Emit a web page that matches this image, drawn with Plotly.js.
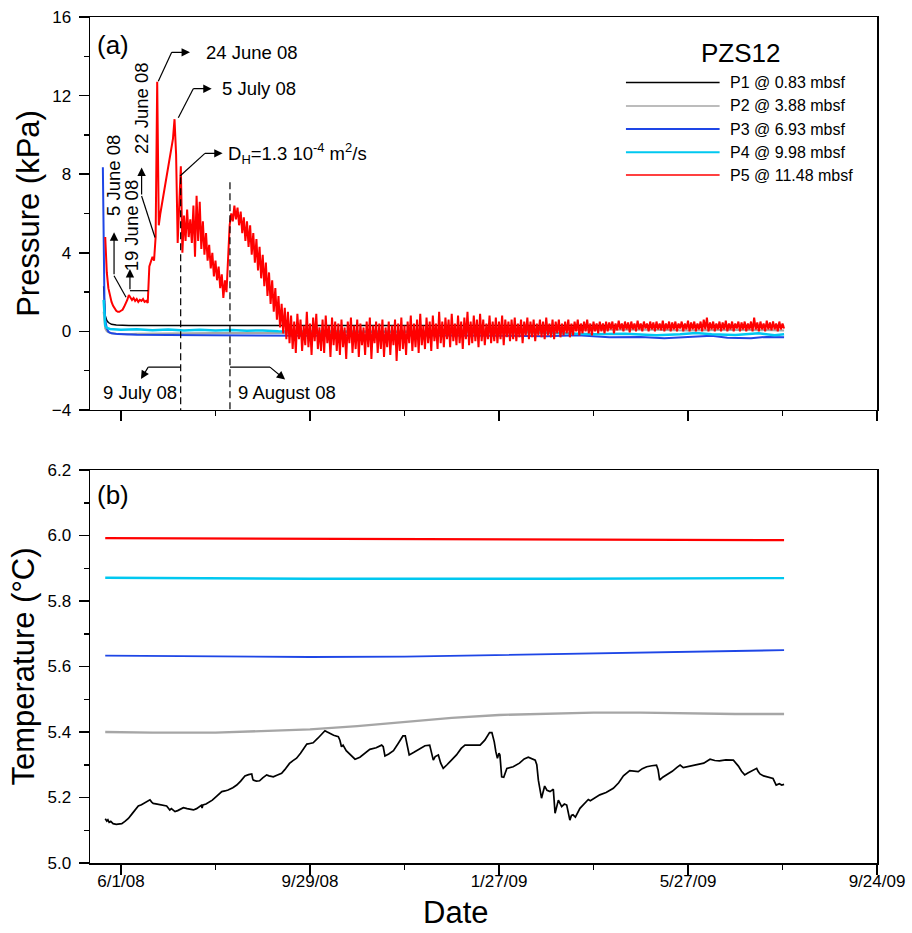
<!DOCTYPE html>
<html>
<head>
<meta charset="utf-8">
<script src="https://cdn.plot.ly/plotly-3.0.1.min.js"></script>
<style>body{margin:0;background:#fff;} #chart{width:912px;height:933px;}</style>
</head>
<body>
<div id="chart"></div>
<script>
// ---------------- DATA (days counted from 2008-06-01) ----------------
const seriesNames = ['P1 @ 0.83 mbsf','P2 @ 3.88 mbsf','P3 @ 6.93 mbsf','P4 @ 9.98 mbsf','P5 @ 11.48 mbsf'];
const seriesColors = ['#000000','#a6a6a6','#1e46e6','#00c8f0','#ff0000'];
const siteName = 'PZS12';
const xTickLabels = ['6/1/08','9/29/08','1/27/09','5/27/09','9/24/09'];
const xTickDates = ['2008-06-01','2008-09-29','2009-01-27','2009-05-27','2009-09-24'];

// Pressure (kPa)
const pressP1Day = [-11,-10.5,-10,-9,-8,-6,-3,5,50,100,150,200,250,300,350,421];
const pressP1    = [2.3,1.2,0.8,0.55,0.45,0.36,0.32,0.3,0.3,0.3,0.3,0.3,0.29,0.28,0.3,0.3];

const pressP2Day = [-11,-10.5,-10,-9,-7,-3,4,10,30,60,100,150,200,260,300,330,360,390,421];
const pressP2    = [1.0,0.4,0.15,0.0,-0.08,-0.12,-0.15,-0.12,-0.1,-0.08,-0.08,-0.05,0.0,0.05,0.08,0.1,0.05,0.08,0.05];

const pressP3Day = [-11.5,-11,-10.5,-10,-9,-8,-6,-2,10,30,60,90,120,160,200,240,270,290,310,330,345,360,375,385,400,410,421];
const pressP3    = [8.35,4.0,1.5,0.6,0.15,-0.02,-0.1,-0.14,-0.17,-0.18,-0.2,-0.21,-0.22,-0.2,-0.2,-0.22,-0.25,-0.2,-0.3,-0.28,-0.35,-0.3,-0.22,-0.32,-0.35,-0.28,-0.3];

const pressP4Day = [-11,-10.5,-10,-9,-7,0,10,20,30,40,50,60,70,80,90,100,130,160,200,230,260,280,300,320,340,355,365,375,390,405,415,421];
const pressP4    = [1.6,0.6,0.3,0.18,0.12,0.08,0.11,0.06,0.1,0.05,0.08,0.04,0.07,0.03,0.05,0.0,0.0,-0.02,-0.03,-0.04,-0.05,-0.1,-0.15,-0.12,-0.2,-0.15,-0.08,-0.15,-0.18,-0.1,-0.2,-0.15];

// P5 pressure: daily readings starting at day -10 (2008-05-22)
const pressP5FirstDay = -10;
const pressP5 = [
 4.8,3.0,2.2,1.8,1.5,1.3,1.15,1.05,1.0,1.0,
 1.05,1.1,1.25,1.4,1.6,1.85,1.7,1.6,1.7,1.55,
 1.65,1.5,1.6,1.55,1.65,1.5,1.55,1.45,3.3,3.5,
 3.8,3.6,4.8,12.7,5.4,6.0,6.5,6.9,7.4,7.9,
 8.3,8.9,9.4,9.8,10.8,9.0,4.5,6.5,8.4,4.0,
 5.9,4.6,6.2,4.8,5.7,4.5,6.4,3.8,6.9,4.6,
 6.6,4.2,5.6,3.9,5.0,3.6,4.4,3.2,4.0,2.8,
 3.6,2.6,3.3,2.2,2.9,1.7,2.6,2.0,3.6,5.4,
 6.0,5.6,6.4,5.7,6.3,5.4,6.1,5.0,5.8,4.6,
 5.6,4.3,5.4,3.9,5.0,3.5,4.7,3.1,4.3,2.7,
 3.9,2.3,3.5,1.8,3.0,1.4,2.6,1.0,2.2,0.6,
 1.8,0.2,1.4,-0.1,1.2,-0.4,1.0,-0.6,
 0.8,-0.9,0.5,-1.1,0.9,-0.4,0.6,-1.0,0.3,-0.7,
 1.0,-0.8,0.4,-1.2,0.7,-0.5,0.9,-0.9,0.2,-1.0,
 0.6,-1.1,0.8,-0.6,0.3,-1.3,0.7,-0.7,0.5,-1.0,
 0.4,-1.2,0.6,-0.8,0.2,-1.4,0.5,-0.6,0.7,-1.1,
 0.3,-0.9,0.6,-1.3,0.4,-0.7,0.2,-1.2,0.5,-0.8,
 0.7,-1.4,0.3,-0.6,0.5,-1.1,0.4,-0.9,0.6,-1.3,
 0.2,-0.8,0.5,-1.2,0.3,-0.7,0.6,-1.5,0.4,-1.0,
 0.7,-0.9,0.3,-1.2,0.5,-0.6,0.8,-1.0,0.4,-0.8,
 0.6,-1.1,0.9,-0.7,0.3,-0.9,0.7,-0.6,0.5,-1.0,
 0.8,-0.5,0.4,-0.9,1.0,-0.6,0.5,-0.8,0.7,-0.4,
 0.6,-0.8,0.9,-0.5,0.4,-0.7,0.8,-0.6,0.5,-0.9,
 0.7,-0.4,1.0,-0.7,0.5,-0.6,0.8,-0.5,0.6,-0.8,
 0.9,-0.5,0.6,-0.7,0.4,-0.4,0.8,-0.6,0.5,-0.5,
 0.7,-0.6,0.5,-0.4,0.8,-0.7,0.6,-0.3,0.5,-0.5,
 0.6,-0.4,0.7,-0.5,0.4,-0.3,0.6,-0.6,0.5,-0.2,
 0.7,-0.4,0.5,-0.3,0.6,-0.5,0.4,-0.2,0.6,-0.3,
 0.5,-0.4,0.7,-0.2,0.4,-0.3,0.6,-0.4,0.5,-0.1,
 0.6,-0.3,0.4,-0.2,0.5,-0.1,0.6,-0.3,0.4,-0.2,
 0.5,0.0,0.6,-0.2,0.4,-0.1,0.5,0.0,0.6,-0.1,
 0.4,-0.2,0.5,0.0,0.4,-0.1,0.5,0.0,0.4,-0.1,
 0.5,0.0,0.45,0.1,0.5,-0.1,0.4,0.05,0.55,0.1,
 0.4,0.0,0.5,0.1,0.45,-0.05,0.5,0.1,0.4,0.0,
 0.55,0.1,0.4,0.0,0.5,0.15,0.4,0.0,0.5,0.1,
 0.45,0.0,0.5,0.1,0.4,0.05,0.55,0.0,0.4,0.1,
 0.5,0.0,0.45,0.1,0.5,0.0,0.4,0.15,0.5,0.0,
 0.4,0.1,0.55,0.0,0.45,0.1,0.5,0.0,0.4,0.1,
 0.5,0.0,0.6,0.1,0.7,0.0,0.45,0.1,0.5,0.0,
 0.4,0.1,0.5,0.0,0.45,0.1,0.55,0.0,0.4,0.1,
 0.5,0.0,0.4,0.15,0.5,0.0,0.45,0.1,0.5,0.0,
 0.4,0.1,0.5,0.0,0.7,0.1,0.45,0.0,0.5,0.1,
 0.4,0.0,0.55,0.1,0.45,0.05,0.5,0.1,0.4,0.0,
 0.5,0.1,0.4,0.15
];

// Temperature (°C)
const tempP1Day = [
 -10,-9,-8.3,-7.5,-6.5,-5,-3,-1,0.5,2.5,
 4.7,7,9,11,13,15,17,18.4,19.5,20.5,
 23,26,29,30,31,32,34.3,36,38,39.6,
 42,44,46,48,50,51,51.5,52,54,55.5,
 58,61,64,66,68,71,73.5,76,78.7,81,
 83,83.6,84,86,88,90,92.5,94,96.7,99,
 102,104,107,109,111.5,114,116,118,120,122,
 125,127,129.5,131,132.7,135,138,139,140,141,
 143,146,148.6,151.7,155,158,162,165.5,166.5,167.6,
 170,173,176,179,180.5,181.5,183,186,190,193,
 196,197,198.3,199.5,201.5,203,204.6,207,209,213,
 216,218.4,223,228,231,234,235.5,237,238,239,
 240,240.6,241.7,243,245,249,253,256,258.6,261,
 263,264,265,267,269,270.5,272.4,274.5,275.6,277.7,
 279.8,281.5,283,285,286,287,288.5,291.4,294,296.7,
 298,301,304,308,312.6,316,319,323,326,328.4,
 331,333.8,337,340,341,342,344,346.5,350,353,
 355,357,361,365.5,370,374,377,380,384,388.8,
 390,392,394,396,398,399.4,401,403.6,404.5,405.7,
 408,410,412,414,415,416,418,419.5,421];
const tempP1 = [
 5.135,5.128,5.132,5.124,5.127,5.120,5.118,5.120,5.120,5.127,
 5.136,5.150,5.164,5.174,5.178,5.183,5.190,5.193,5.186,5.182,
 5.180,5.178,5.174,5.168,5.162,5.166,5.157,5.160,5.165,5.169,
 5.166,5.164,5.162,5.166,5.172,5.176,5.168,5.177,5.180,5.184,
 5.192,5.205,5.218,5.220,5.223,5.230,5.238,5.250,5.266,5.270,
 5.272,5.258,5.253,5.250,5.251,5.260,5.269,5.266,5.263,5.268,
 5.274,5.285,5.304,5.312,5.320,5.335,5.350,5.363,5.365,5.367,
 5.381,5.392,5.404,5.400,5.396,5.390,5.386,5.375,5.355,5.360,
 5.343,5.330,5.317,5.323,5.335,5.347,5.352,5.360,5.355,5.327,
 5.333,5.343,5.365,5.388,5.388,5.360,5.330,5.338,5.350,5.358,
 5.360,5.340,5.314,5.325,5.330,5.305,5.289,5.300,5.309,5.330,
 5.350,5.360,5.360,5.360,5.375,5.398,5.398,5.370,5.340,5.320,
 5.335,5.330,5.263,5.262,5.289,5.294,5.305,5.318,5.323,5.318,
 5.314,5.300,5.253,5.198,5.235,5.222,5.218,5.225,5.152,5.192,
 5.172,5.180,5.177,5.131,5.145,5.147,5.140,5.167,5.180,5.194,
 5.190,5.200,5.208,5.215,5.228,5.245,5.266,5.282,5.280,5.279,
 5.288,5.294,5.297,5.299,5.285,5.253,5.262,5.269,5.280,5.292,
 5.299,5.291,5.295,5.299,5.305,5.317,5.313,5.312,5.315,5.314,
 5.308,5.296,5.280,5.269,5.275,5.279,5.283,5.289,5.280,5.272,
 5.266,5.263,5.262,5.258,5.248,5.238,5.242,5.238,5.240];

const tempP2Day = [-10,20,60,90,120,150,180,210,240,270,300,330,360,390,421];
const tempP2    = [5.400,5.398,5.398,5.402,5.408,5.418,5.430,5.443,5.452,5.456,5.459,5.459,5.456,5.455,5.455];

const tempP3Day = [-10,60,120,180,240,300,360,421];
const tempP3    = [5.633,5.631,5.629,5.630,5.635,5.641,5.646,5.650];

const tempP4Day = [-10,20,50,80,120,160,200,240,280,320,360,400,421];
const tempP4    = [5.871,5.870,5.869,5.869,5.868,5.868,5.867,5.868,5.868,5.869,5.869,5.870,5.870];

const tempP5Day = [-10,50,100,150,200,250,300,350,421];
const tempP5    = [5.992,5.991,5.990,5.990,5.989,5.988,5.987,5.987,5.986];

// ---------------- helpers ----------------
const BASE = Date.UTC(2008, 5, 1);
function dayToDate(d) {
  return new Date(BASE + Math.round(d * 864e5)).toISOString().replace('T', ' ').slice(0, 19);
}
const FONT = 'Liberation Sans, Arial, sans-serif';
const DAY = 864e5;

const pressDays = [pressP1Day, pressP2Day, pressP3Day, pressP4Day];
const pressVals = [pressP1, pressP2, pressP3, pressP4];
const pressWidths = [1.5, 2, 2, 2.5, 2];
const tempDays = [tempP1Day, tempP2Day, tempP3Day, tempP4Day, tempP5Day];
const tempVals = [tempP1, tempP2, tempP3, tempP4, tempP5];
const tempWidths = [1.7, 2.3, 1.8, 2.4, 2.2];

const traces = [];
for (let i = 0; i < 4; i++) {
  traces.push({x: pressDays[i].map(dayToDate), y: pressVals[i], type: 'scatter', mode: 'lines',
    name: seriesNames[i], line: {color: seriesColors[i], width: pressWidths[i]}, xaxis: 'x', yaxis: 'y', showlegend: false});
}
traces.push({x: pressP5.map((v, k) => dayToDate(pressP5FirstDay + k)), y: pressP5, type: 'scatter', mode: 'lines',
  name: seriesNames[4], line: {color: seriesColors[4], width: pressWidths[4]}, xaxis: 'x', yaxis: 'y', showlegend: false});
for (let i = 0; i < 5; i++) {
  traces.push({x: tempDays[i].map(dayToDate), y: tempVals[i], type: 'scatter', mode: 'lines',
    name: seriesNames[i], line: {color: seriesColors[i], width: tempWidths[i]}, xaxis: 'x2', yaxis: 'y2', showlegend: false});
}

// ---------------- annotations (top panel) ----------------
const shapes = [];
const annotations = [];
const ANN_FONT = {family: FONT, size: 18.5, color: '#000'};
function seg(d0, p0, d1, p1, dash) {
  shapes.push({type: 'line', xref: 'x', yref: 'y', x0: dayToDate(d0), y0: p0, x1: dayToDate(d1), y1: p1,
    line: {color: '#000', width: 1.2, dash: dash || 'solid'}});
}
// labelled arrow: arrow starts at data point (d,p) and its head points at the text, which sits at pixel offset (ax, ay)
function tagged(d, p, ax, ay, txt, xa, ya, gap) {
  annotations.push({xref: 'x', yref: 'y', x: dayToDate(d), y: p, ax: ax, ay: ay, text: txt,
    xanchor: xa, yanchor: ya, font: ANN_FONT,
    showarrow: true, arrowside: 'start', startarrowhead: 2, startarrowsize: 1.4, arrowwidth: 1.2,
    arrowcolor: '#000', startstandoff: gap, standoff: 0, borderpad: 0});
}
// plain arrow from (d0,p0) with head at (d1,p1)
function arrow(d0, p0, d1, p1) {
  annotations.push({xref: 'x', yref: 'y', axref: 'x', ayref: 'y', x: dayToDate(d1), y: p1, ax: dayToDate(d0), ay: p0,
    text: '', showarrow: true, arrowhead: 2, arrowsize: 1.4, arrowwidth: 1.2, arrowcolor: '#000'});
}
function vlabel(d, p, txt) {
  annotations.push({xref: 'x', yref: 'y', x: dayToDate(d), y: p, text: txt, showarrow: false,
    xanchor: 'center', yanchor: 'middle', textangle: -90, font: ANN_FONT});
}
// 24 June 08
seg(23.7, 12.73, 32.2, 14.2);
tagged(32.2, 14.2, 33.3, 0, '24 June 08', 'left', 'middle', 15);
// 5 July 08
seg(36.4, 10.87, 45.9, 12.35);
tagged(45.9, 12.35, 27.4, 0, '5 July 08', 'left', 'middle', 9);
// DH
seg(37.5, 7.91, 53.3, 9.06);
tagged(53.3, 9.06, 21.7, 0, 'D<sub>H</sub>=1.3 10<sup>-4</sup> m<sup>2</sup>/s', 'left', 'middle', 4);
// 22 June 08
seg(21.6, 4.78, 13.1, 6.89); arrow(13.1, 6.89, 13.1, 8.34); vlabel(13.1, 11.35, '22 June 08');
// 5 June 08
seg(3.2, 1.74, -4.4, 2.83); arrow(-4.4, 2.83, -4.4, 5.04); vlabel(-4.9, 7.92, '5 June 08');
// 19 June 08
seg(17.3, 2.07, 5.7, 2.07); arrow(5.7, 2.07, 5.7, 3.17); vlabel(6.8, 5.38, '19 June 08');
// dashed markers (9 July 08, 9 August 08)
seg(37.9, 7.84, 37.9, -4, '7px,4px');
seg(69.2, 7.59, 69.2, -4, '7px,4px');
// 9 July 08
seg(37.9, -1.82, 17.3, -1.82);
tagged(17.3, -1.82, -8.3, 13.7, '9 July 08', 'center', 'top', 2);
// 9 August 08
seg(69.2, -1.82, 94.6, -1.82);
tagged(94.6, -1.82, 16.7, 13.7, '9 August 08', 'center', 'top', 2);

// panel letters
annotations.push({xref: 'paper', yref: 'paper', x: 0.006, y: 0.967, text: '(a)', showarrow: false, xanchor: 'left', yanchor: 'middle', font: {family: FONT, size: 26, color: '#000'}});
annotations.push({xref: 'paper', yref: 'paper', x: 0.006, y: 0.435, text: '(b)', showarrow: false, xanchor: 'left', yanchor: 'middle', font: {family: FONT, size: 26, color: '#000'}});

// x-axis title: centred on the page like the reference
annotations.push({xref: 'paper', yref: 'paper', x: 0.465, y: -0.0591, text: 'Date', showarrow: false, xanchor: 'center', yanchor: 'middle', font: {family: FONT, size: 31, color: '#000'}});

// custom legend (paper coordinates)
annotations.push({xref: 'paper', yref: 'paper', x: 0.8276, y: 0.9574, text: siteName, showarrow: false, xanchor: 'center', yanchor: 'middle', font: {family: FONT, size: 26, color: '#000'}});
const legendRowY = [0.9227, 0.8948, 0.8676, 0.8400, 0.8132];
for (let i = 0; i < 5; i++) {
  shapes.push({type: 'line', xref: 'paper', yref: 'paper', x0: 0.681, x1: 0.800, y0: legendRowY[i], y1: legendRowY[i],
    line: {color: seriesColors[i], width: i === 2 || i === 3 ? 2 : 1.5}});
  annotations.push({xref: 'paper', yref: 'paper', x: 0.811, y: legendRowY[i], text: seriesNames[i], showarrow: false,
    xanchor: 'left', yanchor: 'middle', font: {family: FONT, size: 16, color: '#000'}});
}

// ---------------- axes ----------------
const xRange = ['2008-05-12 08:00:00', '2009-09-24 00:00:00'];
const commonX = {type: 'date', range: xRange, showgrid: false, zeroline: false, showline: true, mirror: true,
  linecolor: '#000', linewidth: 1.5, ticks: 'outside', ticklen: 10, tickwidth: 1.5, tickcolor: '#000',
  tickmode: 'array', tickvals: xTickDates, ticktext: xTickLabels, ticklabelstandoff: -8,
  minor: {dtick: 60 * DAY, tick0: '2008-06-01', ticks: 'outside', ticklen: 5, tickwidth: 1.5, tickcolor: '#000'},
  tickfont: {family: FONT, size: 17, color: '#000'}};
const commonY = {showgrid: false, zeroline: false, showline: true, mirror: true, linecolor: '#000', linewidth: 1.5,
  ticks: 'outside', ticklen: 10, tickwidth: 1.5, tickcolor: '#000', ticklabelstandoff: 4,
  tickfont: {family: FONT, size: 17, color: '#000'}};

const layout = {
  width: 912, height: 933,
  margin: {l: 90, r: 35, t: 17, b: 70},
  paper_bgcolor: '#fff', plot_bgcolor: '#fff',
  font: {family: FONT, color: '#000'},
  showlegend: false,
  xaxis: Object.assign({}, commonX, {anchor: 'y', showticklabels: false, domain: [0, 1]}),
  xaxis2: Object.assign({}, commonX, {anchor: 'y2', domain: [0, 1]}),
  yaxis: Object.assign({}, commonY, {domain: [0.5355, 1], range: [-4, 16], tickmode: 'linear', tick0: 0, dtick: 4,
    minor: {dtick: 2, ticks: 'outside', ticklen: 5, tickwidth: 1.5, tickcolor: '#000'},
    title: {text: 'Pressure (kPa)', font: {family: FONT, size: 31, color: '#000'}, standoff: 3}}),
  yaxis2: Object.assign({}, commonY, {domain: [0, 0.4645], range: [5.0, 6.2], tickmode: 'linear', tick0: 5, dtick: 0.2, tickformat: '.1f',
    minor: {dtick: 0.1, ticks: 'outside', ticklen: 5, tickwidth: 1.5, tickcolor: '#000'},
    title: {text: 'Temperature (°C)', font: {family: FONT, size: 31, color: '#000'}, standoff: 3}}),
  shapes: shapes,
  annotations: annotations
};

Plotly.newPlot('chart', traces, layout, {displayModeBar: false, staticPlot: true});
</script>
</body>
</html>
